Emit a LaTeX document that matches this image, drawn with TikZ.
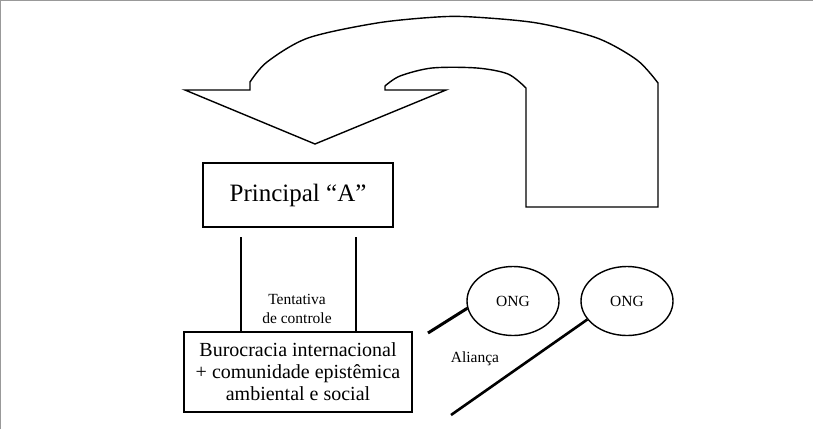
\documentclass[tikz,border=0pt]{standalone}
\usepackage{fontspec}
\setmainfont{Liberation Serif}
\usetikzlibrary{shapes.geometric}
\tikzset{
  outline/.style={draw=black, line width=1.4pt, line join=miter},
  boxnode/.style={draw=black, line width=1.6pt, align=center, inner sep=0pt},
  ongnode/.style={draw=black, ellipse, line width=1.4pt, minimum width=92pt, minimum height=69pt, inner sep=0pt, font=\fontsize{15.5}{18}\selectfont},
  tie/.style={line width=2.6pt},
  smalltext/.style={align=center, font=\fontsize{15.5}{19}\selectfont, inner sep=0pt},
}
\begin{document}
\begin{tikzpicture}[x=1pt, y=-1pt]
\useasboundingbox (0,0) rectangle (813,429);
\fill[white] (0,0) rectangle (813,429);
\draw[gray!80, line width=1pt] (0.5,429) -- (0.5,0.5) -- (813,0.5);

% curved arrow
\draw[outline] (250,90) -- (185,90) -- (315,144) -- (446,90) -- (385,90) -- (385,86)
  -- plot[smooth, tension=0.5] coordinates {(385,86) (400,76) (432,68) (477,68) (508,74) (526,88)}
  -- (526,207) -- (658,207) -- (658,83)
  -- plot[smooth, tension=0.5] coordinates {(658,83) (637,60) (597,38) (537,23) (473,17) (437,17) (377,23) (308,38) (267,62) (250,82)}
  -- cycle;

% boxes
\node[boxnode, minimum width=190pt, minimum height=64pt, font=\fontsize{25}{28}\selectfont] (prin) at (298,195) {Principal \textquotedblleft A\textquotedblright};
\node[boxnode, minimum width=228pt, minimum height=80pt, font=\fontsize{20}{22}\selectfont] (bur) at (298,372) {Burocracia internacional\\+ comunidade epistêmica\\ambiental e social};

% control lines
\coordinate (c1) at (241,237);
\coordinate (c2) at (356,237);
\draw[tie] (c1) -- (c1 |- bur.north);
\draw[tie] (c2) -- (c2 |- bur.north);
\node[smalltext] (tent) at (297,309) {Tentativa\\de controle};

% NGOs
\node[ongnode] (ong1) at (513,301) {\raisebox{-4pt}{ONG}};
\node[ongnode] (ong2) at (627,301) {ONG};
\coordinate (e1) at (428,333);
\coordinate (e2) at (451,415);
\draw[line width=3pt] (ong1.189) -- (e1);
\draw[tie] (ong2.205) -- (e2);
\node[smalltext] (alianca) at (475,359) {Aliança};
\end{tikzpicture}
\end{document}
